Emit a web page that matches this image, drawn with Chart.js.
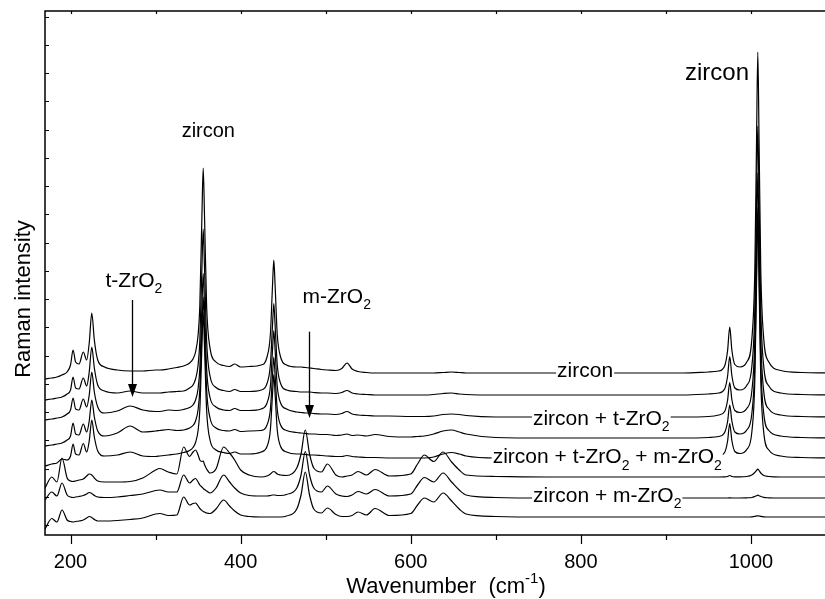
<!DOCTYPE html>
<html>
<head>
<meta charset="utf-8">
<script src="https://cdn.jsdelivr.net/npm/chart.js@4.4.1/dist/chart.umd.min.js"></script>
<style>
  html, body { margin: 0; padding: 0; background: #fff; }
  .charts-wrapper { position: relative; width: 825px; height: 599px; }
</style>
</head>
<body>
<div class="charts-wrapper"><canvas class="charts"></canvas></div>
<script>
// Raman spectra, stacked with offsets (a.u.); wavenumber in cm-1
const wavenumber = [
  170, 178, 184, 190, 196, 200, 203, 206, 210, 215,
  219, 222, 225, 228, 232, 240, 255, 270, 285, 300,
  305, 315, 325, 333, 340, 344, 347, 350, 352, 354.5,
  356, 357.5, 360, 364, 371, 380, 387, 393, 400, 410,
  424, 431, 435, 437.5, 439, 440.5, 443, 447, 454, 466,
  471, 476, 481, 486, 495, 502, 512, 519, 525, 531,
  538, 548, 558, 575, 600, 608, 616, 627, 638, 648,
  657, 665, 700, 760, 850, 920, 950, 962, 969, 972.5,
  975, 977.5, 981, 987, 995, 1001, 1004.5, 1006.5, 1008, 1009.5,
  1011.5, 1015, 1021, 1035, 1060, 1090
];

const zircon = [
  156, 157, 158, 160, 163, 170, 185, 173, 171, 183,
  175, 192, 222, 195, 175, 168, 165, 164, 164, 165,
  165, 166, 167.5, 169, 172, 176, 183, 200, 229, 320,
  367, 320, 229, 187, 173, 169.5, 168.5, 171, 168, 168.5,
  170, 178, 201, 250, 275, 250, 201, 178, 170, 168,
  168, 167.5, 167, 166.5, 165.5, 165, 164.5, 166.5, 172, 166,
  163.5, 162.5, 162, 162, 162, 162, 162, 162, 162.5, 163,
  162.5, 162, 162, 162, 162, 162, 163, 164, 169, 184.5,
  208, 185, 170.5, 168, 173, 196, 265, 393, 483, 393,
  265, 196, 173, 164.5, 162.5, 162
];

const zirconT1 = [
  135, 136, 137, 138, 141, 145, 158, 147, 146, 157,
  149, 163, 188, 167, 150, 144, 142, 144, 142, 142,
  142, 143, 143.5, 144, 147, 150, 156, 170, 194, 268,
  306, 268, 194, 159, 147.5, 144.5, 143.5, 145.5, 143.5, 143.5,
  145, 151.5, 170.5, 210.5, 231.5, 210.5, 170.5, 151.5, 145, 143.5,
  143, 143, 143, 142.5, 142, 142, 141.5, 142.5, 144.5, 142,
  141, 140.5, 140, 140, 140, 140, 140, 140.5, 141.5, 142,
  141, 140.5, 140, 140, 140, 140, 141, 142, 146, 159,
  178.5, 159.5, 147, 145, 149.5, 168.5, 226, 333.5, 409, 333.5,
  226, 168.5, 149, 142, 140.5, 140
];

const zirconT2 = [
  115, 116, 117, 118, 121, 125, 137, 126, 125, 136,
  128, 140, 163, 143, 128, 122, 124, 129, 125, 123.5,
  123.5, 125, 124.5, 125.5, 127.5, 130, 135, 146.5, 166.5, 229,
  261.5, 229, 166.5, 137.5, 128, 125, 124.5, 126.5, 124.5, 124.5,
  126, 132, 149, 185.5, 204.5, 185.5, 149, 132, 126, 123,
  122.5, 122, 122, 121.5, 121, 121, 120.5, 121.5, 123.5, 121,
  120, 119.5, 119, 119, 118.5, 118.5, 118.5, 119, 120.5, 121,
  120.5, 119.5, 118, 118, 118, 118, 118.5, 120, 123.5, 135,
  152.5, 135.5, 124.5, 122.5, 126.5, 144, 196.5, 293.5, 362, 293.5,
  196.5, 143.5, 126, 120, 118.5, 118
];

const zirconT3 = [
  89, 90, 91, 92, 95, 99, 112, 101, 100, 111,
  103, 114, 135, 118, 104, 99, 102, 109, 103, 104,
  104.5, 105.5, 104.5, 105, 107, 109.5, 114, 125.5, 145.5, 206,
  238, 206, 145.5, 117, 107, 104.5, 104, 105.5, 103.5, 104,
  104.5, 110, 126, 160, 178, 160, 126, 110, 104.5, 102.5,
  102, 101.5, 101, 101, 100.5, 100.5, 99.5, 100, 101, 99.5,
  100, 99, 100.5, 98.5, 98, 98.5, 99, 101, 104, 105,
  103, 101, 97.5, 97, 97, 97, 97.5, 98.5, 102.5, 113.5,
  130, 114, 103, 101, 105, 121.5, 171, 263, 328, 263,
  171, 121.5, 104.5, 99, 97.5, 97
];

const zirconTM = [
  69, 71, 72, 76, 75, 79, 91, 81, 80, 91.5,
  83, 94, 115, 98, 84, 79, 80, 83, 79, 78.5,
  79, 80, 81, 82.5, 84.5, 87.5, 92.5, 104.5, 125, 189,
  222.5, 189, 125, 95, 85, 82.5, 81.5, 83, 81, 81,
  83, 88.5, 105.5, 141.5, 160.5, 141.5, 105.5, 88.5, 83, 81,
  81, 80.5, 80, 80, 79.5, 79, 78.5, 78.5, 79.5, 78.5,
  78, 77.5, 77.5, 77, 77, 77, 77, 78, 81, 82.5,
  81, 79, 77, 77, 77, 77, 77.5, 79, 82.5, 94,
  111.5, 94.5, 83.5, 81.5, 85.5, 103, 155, 252, 320, 252,
  155, 102.5, 85, 79, 77.5, 77
];

const zirconM1 = [
  47, 58, 53, 77, 57, 54, 53.5, 54, 55, 56,
  59, 61, 60, 57, 54, 53, 53, 53.5, 57, 65,
  66.5, 63, 61, 88, 78.5, 83, 85, 80, 75, 73.5,
  74, 70.5, 66, 62, 66, 88, 82, 75, 65, 60,
  58, 59, 61, 63, 63.5, 63, 61, 60, 59.5, 67,
  81, 105, 81, 67, 63, 71, 60, 58, 59, 60,
  63.5, 60, 65.5, 59, 61, 71, 80, 73.5, 83, 73,
  65, 60, 58.5, 58, 58, 58, 58, 58, 58.1, 58.5,
  59.5, 58.5, 58.2, 58.2, 58.5, 60, 62.5, 64.5, 66, 64.5,
  62, 59.5, 58.5, 58, 58, 58
];

const zirconM2 = [
  35, 43, 39, 52, 40, 38, 37.5, 38, 38.5, 39.5,
  41, 42.5, 41.5, 39.5, 38, 37.5, 38, 39.5, 41, 44.5,
  45, 43, 43, 60, 52, 55, 56.5, 53, 50, 48,
  46.5, 45.5, 44, 42, 47, 60, 53, 47, 42, 39.5,
  39, 39, 39.5, 40, 40, 40, 39.5, 39.5, 40.5, 47,
  60, 83.5, 60, 47, 43, 49, 41, 39, 38.5, 40,
  43.5, 41, 45.5, 39, 41, 50, 57.5, 53, 62, 53,
  45, 40, 37.5, 37, 37, 37, 37, 37, 37, 37,
  37.2, 37, 37, 37, 37.2, 37.5, 38.5, 39.3, 39.8, 39.3,
  38.5, 37.6, 37.2, 37, 37, 37
];

const zirconM3 = [
  6, 16.5, 13, 25, 15, 13.5, 13, 13.5, 14, 15,
  17, 18.5, 17.5, 15.5, 14, 14, 14.5, 15.5, 17, 21,
  21.5, 19.5, 20, 38, 30, 31.5, 32, 29, 26.5, 24.5,
  23.5, 23, 22, 21.5, 26, 35, 29, 24, 20, 18.5,
  18, 18, 18, 18, 18, 18, 18, 18, 19, 26,
  40, 63, 40, 26, 22, 27, 20.5, 18.5, 18.5, 19.5,
  23, 20, 26.5, 19.5, 21.5, 30, 37, 33, 42, 34,
  26, 21, 18.5, 18, 18, 18, 18, 18, 18, 18,
  18, 18, 18, 18, 18, 18.2, 18.6, 19, 19.2, 19,
  18.6, 18.2, 18, 18, 18, 18
];

const spectra = [zircon, zirconT1, zirconT2, zirconT3, zirconTM, zirconM1, zirconM2, zirconM3];

const xTicks = [200, 400, 600, 800, 1000];
const xMinorTicks = [300, 500, 700, 900];
const yTicks = [10, 38.2, 66.5, 94.7, 123, 151.2, 179.4, 207.7, 235.9, 264.2,
  292.4, 320.6, 348.9, 377.1, 405.4, 433.6, 461.8, 490.1, 518.3];

// text on the plot, in data coordinates ("_2" = subscript)
const traceLabels = [
  { text: 'zircon', x: 805, y: 157.7 },
  { text: 'zircon + t-ZrO_2', x: 824, y: 110 },
  { text: 'zircon + t-ZrO_2 + m-ZrO_2', x: 831, y: 71.7 },
  { text: 'zircon + m-ZrO_2', x: 831, y: 33.3 },
];
const peakLabels = [
  { text: 'zircon', x: 362, y: 398.3, size: 20 },
  { text: 'zircon', x: 960, y: 455, size: 24 },
  { text: 't-ZrO_2', x: 274.5, y: 248, size: 21 },
  { text: 'm-ZrO_2', x: 513, y: 232, size: 21 },
];
const arrows = [
  { x: 272, from: 235, to: 138 },
  { x: 480.4, from: 203.3, to: 117 },
];

const FONT = '"Liberation Sans", Arial, Helvetica, sans-serif';

function richParts(str) {
  const parts = [];
  const re = /_(\w)|\^\{([^}]*)\}/g;
  let last = 0;
  let m;
  while ((m = re.exec(str))) {
    if (m.index > last) parts.push({ t: str.slice(last, m.index), k: 'n' });
    parts.push(m[1] ? { t: m[1], k: 'sub' } : { t: m[2], k: 'sup' });
    last = re.lastIndex;
  }
  if (last < str.length) parts.push({ t: str.slice(last), k: 'n' });
  return parts;
}

function drawRich(ctx, str, x, y, size, bg) {
  const parts = richParts(str);
  const small = Math.round(size * 0.66);
  let w = 0;
  parts.forEach((p) => {
    ctx.font = `${p.k === 'n' ? size : small}px ${FONT}`;
    p.w = ctx.measureText(p.t).width;
    w += p.w;
  });
  let cx = x - w / 2;
  if (bg) {
    ctx.fillStyle = '#fff';
    ctx.fillRect(cx - 1, y - size * 0.74, w + 2, size * 0.95);
  }
  ctx.fillStyle = '#000';
  ctx.textAlign = 'left';
  ctx.textBaseline = 'alphabetic';
  parts.forEach((p) => {
    ctx.font = `${p.k === 'n' ? size : small}px ${FONT}`;
    let dy = 0;
    if (p.k === 'sub') dy = size * 0.3;
    if (p.k === 'sup') dy = -size * 0.45;
    ctx.fillText(p.t, cx, y + dy);
    cx += p.w;
  });
}

const framePlugin = {
  id: 'frame',
  afterDatasetsDraw(chart) {
    const { ctx, chartArea: a } = chart;
    const sx = chart.scales.x;
    const sy = chart.scales.y;
    ctx.save();

    traceLabels.forEach((l) => {
      drawRich(ctx, l.text, sx.getPixelForValue(l.x), sy.getPixelForValue(l.y), 21, true);
    });
    peakLabels.forEach((l) => {
      drawRich(ctx, l.text, sx.getPixelForValue(l.x), sy.getPixelForValue(l.y), l.size, false);
    });

    ctx.strokeStyle = '#000';
    ctx.fillStyle = '#000';
    arrows.forEach((ar) => {
      const px = Math.round(sx.getPixelForValue(ar.x)) + 0.5;
      const y1 = sy.getPixelForValue(ar.from);
      const y2 = sy.getPixelForValue(ar.to);
      ctx.lineWidth = 1.3;
      ctx.beginPath();
      ctx.moveTo(px, y1);
      ctx.lineTo(px, y2 - 12);
      ctx.stroke();
      ctx.beginPath();
      ctx.moveTo(px - 4.5, y2 - 13);
      ctx.lineTo(px + 4.5, y2 - 13);
      ctx.lineTo(px, y2);
      ctx.closePath();
      ctx.fill();
    });

    // frame
    ctx.lineWidth = 1.5;
    ctx.beginPath();
    ctx.moveTo(a.right + 5, a.top);
    ctx.lineTo(a.left, a.top);
    ctx.lineTo(a.left, a.bottom);
    ctx.lineTo(a.right + 5, a.bottom);
    ctx.stroke();

    // tick marks
    ctx.lineWidth = 1.2;
    ctx.beginPath();
    xTicks.forEach((v) => {
      const px = Math.round(sx.getPixelForValue(v)) + 0.5;
      ctx.moveTo(px, a.bottom); ctx.lineTo(px, a.bottom + 9);
      ctx.moveTo(px, a.top); ctx.lineTo(px, a.top + 3);
    });
    xMinorTicks.forEach((v) => {
      const px = Math.round(sx.getPixelForValue(v)) + 0.5;
      ctx.moveTo(px, a.bottom); ctx.lineTo(px, a.bottom + 5);
      ctx.moveTo(px, a.top); ctx.lineTo(px, a.top + 3);
    });
    yTicks.forEach((v) => {
      const py = Math.round(sy.getPixelForValue(v)) + 0.5;
      ctx.moveTo(a.left, py); ctx.lineTo(a.left + 4, py);
    });
    ctx.stroke();

    // tick labels
    ctx.font = `20px ${FONT}`;
    ctx.textAlign = 'center';
    ctx.textBaseline = 'alphabetic';
    xTicks.forEach((v) => {
      ctx.fillText(String(v), sx.getPixelForValue(v), a.bottom + 33);
    });

    // axis titles
    drawRich(ctx, 'Wavenumber  (cm^{-1})', 446, a.bottom + 58, 22, false);
    ctx.save();
    ctx.translate(30, 299);
    ctx.rotate(-Math.PI / 2);
    ctx.font = `22px ${FONT}`;
    ctx.textAlign = 'center';
    ctx.textBaseline = 'alphabetic';
    ctx.fillText('Raman intensity', 0, 0);
    ctx.restore();

    ctx.restore();
  },
};

const ctx = document.querySelector('.charts').getContext('2d');
new Chart(ctx, {
  type: 'line',
  data: {
    datasets: spectra.map((s, i) => ({
      label: `spectrum ${i + 1}`,
      data: wavenumber.map((w, j) => ({ x: w, y: s[j] })),
      borderColor: '#000',
      borderWidth: 1.2,
      pointRadius: 0,
      fill: false,
      cubicInterpolationMode: 'monotone',
    })),
  },
  options: {
    responsive: true,
    maintainAspectRatio: false,
    animation: false,
    devicePixelRatio: 1,
    layout: { padding: { left: 45, top: 11, right: 0, bottom: 64 } },
    plugins: { legend: { display: false }, tooltip: { enabled: false } },
    scales: {
      x: { type: 'linear', min: 170, max: 1087, display: false },
      y: { type: 'linear', min: 0, max: 524, display: false },
    },
  },
  plugins: [framePlugin],
});
</script>
</body>
</html>
